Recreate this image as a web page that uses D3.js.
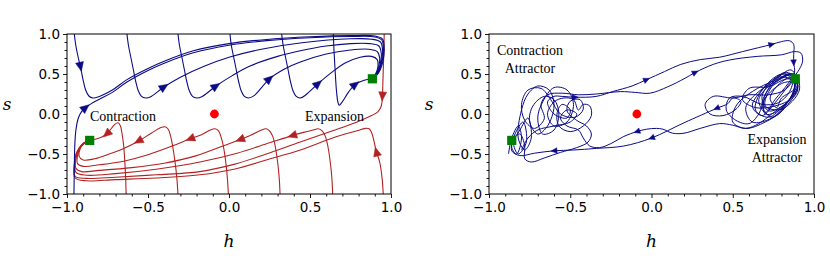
<!DOCTYPE html>
<html>
<head>
<meta charset="utf-8">
<script src="https://cdn.jsdelivr.net/npm/d3@7/dist/d3.min.js"></script>
<style>
    body { margin: 0; background: #fff; }
    svg { display: block; }
</style>
</head>
<body>
<div id="chart"></div>
<script>

// axis ticks (same for h and s, both panels)
var majorTicks = [-1.0, -0.5, 0.0, 0.5, 1.0];
var tickLabels = ['\u22121.0', '\u22120.5', '0.0', '0.5', '1.0'];
var minorTicks = [-0.9, -0.8, -0.7, -0.6, -0.4, -0.3, -0.2, -0.1, 0.1, 0.2, 0.3, 0.4, 0.6, 0.7, 0.8, 0.9];

// fixed points [h, s]
var saddlePoint = [-0.09, 0.0];
var contractionPoint = [-0.86, -0.33];
var expansionPoint = [0.885, 0.44];

// left panel: trajectories starting on the top edge (blue)
var blueCurves = [
    [[-0.955, 1.0], [-0.945, 0.85], [-0.93, 0.7], [-0.917, 0.59], [-0.9, 0.42], [-0.885, 0.3], [-0.865, 0.225], [-0.84, 0.2], [-0.8, 0.22], [-0.72, 0.3], [-0.63, 0.43], [-0.5, 0.57], [-0.4, 0.66], [-0.22, 0.79], [0.0, 0.88], [0.25, 0.935], [0.5, 0.965], [0.75, 0.98], [0.9, 0.975], [0.948, 0.935], [0.958, 0.82], [0.952, 0.68], [0.935, 0.56], [0.91, 0.48], [0.885, 0.44]],
    [[-0.957, -1.0], [-0.955, -0.7], [-0.952, -0.4], [-0.945, -0.2], [-0.93, -0.05], [-0.91, 0.03], [-0.885, 0.08], [-0.85, 0.13], [-0.8, 0.185], [-0.72, 0.27], [-0.63, 0.4], [-0.5, 0.545], [-0.4, 0.635], [-0.22, 0.765], [0.0, 0.86], [0.25, 0.92], [0.5, 0.953], [0.75, 0.968], [0.9, 0.963], [0.943, 0.925], [0.953, 0.82], [0.947, 0.68], [0.93, 0.56], [0.907, 0.48], [0.885, 0.44]],
    [[-0.63, 1.0], [-0.62, 0.85], [-0.605, 0.7], [-0.59, 0.55], [-0.575, 0.4], [-0.56, 0.29], [-0.54, 0.22], [-0.515, 0.2], [-0.48, 0.22], [-0.4, 0.34], [-0.3, 0.46], [-0.15, 0.6], [0.0, 0.71], [0.2, 0.81], [0.45, 0.89], [0.75, 0.94], [0.88, 0.935], [0.935, 0.9], [0.948, 0.8], [0.943, 0.68], [0.928, 0.56], [0.905, 0.48], [0.885, 0.44]],
    [[-0.315, 1.0], [-0.305, 0.85], [-0.29, 0.7], [-0.275, 0.55], [-0.26, 0.4], [-0.245, 0.29], [-0.225, 0.22], [-0.2, 0.2], [-0.165, 0.22], [-0.08, 0.35], [0.02, 0.48], [0.13, 0.6], [0.3, 0.72], [0.44, 0.79], [0.6, 0.85], [0.75, 0.88], [0.87, 0.88], [0.925, 0.85], [0.94, 0.76], [0.935, 0.64], [0.92, 0.54], [0.9, 0.47], [0.885, 0.44]],
    [[0.006, 1.0], [0.015, 0.85], [0.03, 0.7], [0.045, 0.55], [0.06, 0.4], [0.075, 0.29], [0.095, 0.22], [0.12, 0.2], [0.155, 0.23], [0.25, 0.44], [0.34, 0.56], [0.44, 0.65], [0.6, 0.75], [0.75, 0.8], [0.86, 0.81], [0.915, 0.78], [0.93, 0.7], [0.925, 0.6], [0.91, 0.51], [0.885, 0.44]],
    [[0.325, 1.0], [0.335, 0.85], [0.35, 0.7], [0.365, 0.55], [0.38, 0.4], [0.395, 0.29], [0.415, 0.22], [0.44, 0.2], [0.475, 0.24], [0.55, 0.38], [0.64, 0.53], [0.72, 0.64], [0.81, 0.71], [0.88, 0.72], [0.915, 0.68], [0.92, 0.6], [0.905, 0.5], [0.885, 0.44]],
    [[0.644, 1.0], [0.648, 0.8], [0.655, 0.55], [0.663, 0.3], [0.672, 0.15], [0.68, 0.11], [0.695, 0.14], [0.74, 0.28], [0.78, 0.37], [0.83, 0.42], [0.885, 0.44]]
];

// left panel: trajectories starting on the bottom edge (red), last one from the top right
var redCurves = [
    [[-0.635, -1.0], [-0.638, -0.8], [-0.643, -0.6], [-0.65, -0.4], [-0.66, -0.25], [-0.67, -0.15], [-0.685, -0.11], [-0.705, -0.13], [-0.755, -0.25], [-0.8, -0.3], [-0.86, -0.33]],
    [[-0.315, -1.0], [-0.322, -0.8], [-0.333, -0.6], [-0.348, -0.4], [-0.36, -0.28], [-0.375, -0.19], [-0.395, -0.16], [-0.42, -0.17], [-0.48, -0.24], [-0.56, -0.34], [-0.65, -0.43], [-0.74, -0.5], [-0.83, -0.56], [-0.9, -0.575], [-0.925, -0.53], [-0.92, -0.44], [-0.895, -0.37], [-0.86, -0.33]],
    [[-0.004, -1.0], [-0.01, -0.8], [-0.02, -0.6], [-0.035, -0.4], [-0.05, -0.28], [-0.065, -0.21], [-0.086, -0.185], [-0.115, -0.2], [-0.17, -0.26], [-0.24, -0.31], [-0.35, -0.4], [-0.5, -0.51], [-0.65, -0.59], [-0.8, -0.635], [-0.9, -0.655], [-0.935, -0.62], [-0.935, -0.52], [-0.915, -0.41], [-0.885, -0.35], [-0.86, -0.33]],
    [[0.315, -1.0], [0.31, -0.8], [0.3, -0.6], [0.285, -0.4], [0.27, -0.28], [0.25, -0.21], [0.23, -0.185], [0.2, -0.2], [0.14, -0.26], [0.068, -0.32], [-0.05, -0.41], [-0.2, -0.52], [-0.4, -0.615], [-0.6, -0.67], [-0.8, -0.705], [-0.91, -0.72], [-0.945, -0.68], [-0.945, -0.56], [-0.925, -0.43], [-0.89, -0.355], [-0.86, -0.33]],
    [[0.64, -1.0], [0.635, -0.8], [0.625, -0.6], [0.61, -0.4], [0.595, -0.28], [0.575, -0.21], [0.55, -0.185], [0.52, -0.2], [0.46, -0.23], [0.39, -0.27], [0.25, -0.36], [0.05, -0.49], [-0.18, -0.6], [-0.45, -0.69], [-0.7, -0.745], [-0.88, -0.765], [-0.945, -0.73], [-0.95, -0.6], [-0.93, -0.45], [-0.895, -0.36], [-0.86, -0.33]],
    [[0.952, -1.0], [0.945, -0.8], [0.93, -0.6], [0.91, -0.47], [0.895, -0.34], [0.88, -0.23], [0.865, -0.185], [0.84, -0.18], [0.79, -0.21], [0.64, -0.3], [0.44, -0.45], [0.23, -0.575], [0.03, -0.69], [-0.18, -0.76], [-0.45, -0.8], [-0.7, -0.82], [-0.88, -0.835], [-0.95, -0.8], [-0.955, -0.65], [-0.94, -0.48], [-0.9, -0.37], [-0.86, -0.33]],
    [[0.958, 1.0], [0.956, 0.8], [0.953, 0.6], [0.95, 0.4], [0.947, 0.22], [0.94, 0.1], [0.92, 0.03], [0.88, -0.02], [0.79, -0.1], [0.64, -0.21], [0.44, -0.35], [0.23, -0.5], [0.03, -0.63], [-0.18, -0.72], [-0.45, -0.76], [-0.7, -0.79], [-0.88, -0.805], [-0.95, -0.78], [-0.955, -0.64], [-0.94, -0.48], [-0.9, -0.37], [-0.86, -0.33]]
];

// arrow heads: [curve index, h, s]
var blueArrows = [[0, -0.917, 0.59], [1, -0.885, 0.08], [2, -0.4, 0.34], [3, -0.08, 0.35], [4, 0.25, 0.44], [5, 0.55, 0.38], [6, 0.78, 0.37]];
var redArrows = [[0, -0.755, -0.25], [1, -0.56, -0.34], [2, -0.24, -0.31], [3, 0.068, -0.32], [4, 0.39, -0.27], [5, 0.91, -0.47], [6, 0.947, 0.22]];

// right panel: one long noisy trajectory, hopping between the two attractors
var noisyTrajectory = [
    // contraction attractor, tight loops by the square
    [-0.88, -0.5], [-0.86, -0.3], [-0.82, -0.15], [-0.8, -0.3], [-0.83, -0.5], [-0.86, -0.42],
    [-0.84, -0.25], [-0.79, -0.1], [-0.77, -0.35], [-0.82, -0.5], [-0.85, -0.35],
    [-0.81, -0.2], [-0.76, -0.05], [-0.74, -0.3], [-0.78, -0.45], [-0.82, -0.3],
    // wider loops
    [-0.8, 0.05], [-0.76, 0.25], [-0.7, 0.35], [-0.63, 0.3], [-0.6, 0.1], [-0.64, -0.15], [-0.7, -0.25], [-0.75, -0.1],
    [-0.73, 0.1], [-0.66, 0.22], [-0.6, 0.18], [-0.57, 0.0], [-0.6, -0.2], [-0.67, -0.25], [-0.7, -0.05],
    [-0.67, 0.15], [-0.6, 0.33], [-0.52, 0.3], [-0.48, 0.12], [-0.52, -0.1], [-0.6, -0.15], [-0.64, 0.0],
    [-0.6, 0.15], [-0.54, 0.2], [-0.48, 0.18], [-0.45, 0.05], [-0.42, 0.12], [-0.38, 0.1], [-0.37, -0.02], [-0.42, -0.15], [-0.5, -0.22], [-0.57, -0.15], [-0.58, 0.02],
    [-0.55, 0.12], [-0.5, 0.05], [-0.52, -0.05], [-0.6, 0.0], [-0.64, 0.15], [-0.6, 0.22], [-0.55, 0.22], [-0.47, 0.21],
    // upper crossing 1
    [-0.34, 0.22], [-0.24, 0.28], [-0.12, 0.35], [-0.03, 0.43], [0.08, 0.53], [0.18, 0.62], [0.3, 0.68], [0.42, 0.71], [0.56, 0.78], [0.66, 0.83], [0.74, 0.87], [0.8, 0.905], [0.85, 0.915], [0.875, 0.87], [0.875, 0.74], [0.875, 0.64], [0.88, 0.52],
    // expansion attractor
    [0.84, 0.38], [0.76, 0.18], [0.7, 0.02], [0.66, 0.18], [0.76, 0.42], [0.86, 0.55], [0.9, 0.35],
    [0.82, 0.12], [0.72, -0.04], [0.64, 0.05], [0.68, 0.3], [0.8, 0.5], [0.88, 0.45], [0.86, 0.22],
    [0.78, 0.04], [0.7, 0.0], [0.7, 0.24], [0.82, 0.52], [0.9, 0.42], [0.84, 0.16],
    [0.74, -0.05], [0.62, -0.1], [0.58, 0.08], [0.66, 0.28], [0.78, 0.42], [0.88, 0.5], [0.91, 0.3],
    [0.8, 0.06], [0.7, 0.1], [0.74, 0.34], [0.86, 0.5], [0.88, 0.32], [0.8, 0.2],
    [0.77, 0.08], [0.73, 0.2], [0.8, 0.4], [0.87, 0.46], [0.85, 0.28], [0.78, 0.14],
    [0.68, 0.12], [0.56, 0.22], [0.48, 0.2], [0.46, 0.05], [0.52, -0.08], [0.6, -0.12], [0.66, 0.0], [0.7, 0.2], [0.8, 0.38], [0.86, 0.4],
    [0.82, 0.3], [0.72, 0.24], [0.6, 0.24], [0.5, 0.2], [0.38, 0.22], [0.33, 0.12], [0.36, 0.0], [0.44, -0.02], [0.52, 0.06], [0.55, 0.16], [0.5, 0.2],
    // lower crossing 1
    [0.47, 0.13], [0.4, 0.07], [0.2, -0.11], [0.0, -0.3], [-0.17, -0.4], [-0.34, -0.43], [-0.48, -0.45], [-0.6, -0.46], [-0.72, -0.49], [-0.81, -0.52],
    // contraction attractor
    [-0.86, -0.46], [-0.85, -0.32], [-0.81, -0.25], [-0.78, -0.4], [-0.78, -0.56], [-0.74, -0.6], [-0.66, -0.55], [-0.56, -0.48], [-0.46, -0.42], [-0.39, -0.35], [-0.37, -0.25], [-0.4, -0.15],
    [-0.46, -0.08], [-0.52, 0.04], [-0.5, 0.16], [-0.44, 0.18], [-0.42, 0.06], [-0.47, -0.04], [-0.56, 0.0], [-0.62, 0.18], [-0.68, 0.32], [-0.76, 0.3], [-0.8, 0.12], [-0.78, -0.08], [-0.72, -0.18], [-0.66, -0.06], [-0.68, 0.12], [-0.64, 0.24], [-0.55, 0.26], [-0.45, 0.24],
    // upper crossing 2
    [-0.34, 0.25], [-0.19, 0.28], [-0.1, 0.27], [-0.01, 0.26], [0.1, 0.34], [0.2, 0.44], [0.27, 0.52], [0.38, 0.62], [0.48, 0.675], [0.65, 0.72], [0.8, 0.74], [0.88, 0.78], [0.92, 0.76], [0.93, 0.66], [0.91, 0.56], [0.89, 0.5],
    // expansion attractor
    [0.85, 0.38], [0.76, 0.14], [0.68, -0.02], [0.62, 0.1], [0.7, 0.34], [0.82, 0.5], [0.88, 0.36],
    [0.8, 0.04], [0.7, -0.1], [0.58, -0.18], [0.5, -0.1], [0.52, 0.1], [0.62, 0.28], [0.76, 0.42], [0.86, 0.48], [0.9, 0.3],
    [0.82, 0.12], [0.72, 0.04], [0.68, 0.22], [0.78, 0.46], [0.88, 0.4], [0.86, 0.2],
    [0.76, 0.1], [0.64, 0.08], [0.56, 0.18], [0.6, 0.32], [0.72, 0.34], [0.84, 0.44], [0.9, 0.36],
    [0.84, 0.12], [0.74, -0.04], [0.68, 0.12], [0.76, 0.4], [0.86, 0.5], [0.9, 0.34], [0.84, 0.16],
    [0.74, 0.0], [0.66, -0.12], [0.58, -0.18], [0.5, -0.14], [0.42, -0.12],
    // lower crossing 2
    [0.3, -0.18], [0.2, -0.24], [0.13, -0.24], [0.07, -0.19], [0.03, -0.18], [-0.03, -0.19], [-0.09, -0.22], [-0.17, -0.28], [-0.25, -0.37], [-0.32, -0.42], [-0.38, -0.4], [-0.42, -0.3],
    // contraction attractor again
    [-0.45, -0.2], [-0.52, -0.15], [-0.56, -0.05], [-0.52, 0.05], [-0.46, 0.0], [-0.5, -0.1], [-0.6, -0.15], [-0.7, -0.2], [-0.76, -0.3], [-0.8, -0.45]
];
var noisyArrows = [[-0.47, 0.21], [-0.03, 0.43], [0.74, 0.87], [0.875, 0.64], [0.27, 0.52], [0.4, 0.07], [0.0, -0.3], [-0.6, -0.46], [-0.09, -0.22]];

var blueColor = '#0b0b85';
var redColor = '#b22222';

var svg = d3.select('#chart')
    .append('svg')
    .attr('width', 830)
    .attr('height', 260)
;
svg.append('rect').attr('width', 830).attr('height', 260).attr('fill', '#fff');

var line = d3.line().curve(d3.curveCatmullRom.alpha(0.5));

function makePanel(left, right) {

    var panel = {};
    panel.x = d3.scaleLinear().domain([-1, 1]).range([left, right]);
    panel.y = d3.scaleLinear().domain([-1, 1]).range([194, 34]);
    panel.g = svg.append('g');
    panel.toPx = function (p) {
        return [panel.x(p[0]), panel.y(p[1])];
    };

    panel.g.append('g')
        .attr('transform', 'translate(0,194)')
        .call(d3.axisBottom(panel.x).tickValues(majorTicks).tickSize(4).tickPadding(4)
            .tickFormat(function (d, i) { return tickLabels[i]; }))
    ;
    panel.g.append('g')
        .attr('transform', 'translate(0,194)')
        .call(d3.axisBottom(panel.x).tickValues(minorTicks).tickSize(2.5).tickFormat(''))
    ;
    panel.g.append('g')
        .attr('transform', 'translate(' + left + ',0)')
        .call(d3.axisLeft(panel.y).tickValues(majorTicks).tickSize(4).tickPadding(3)
            .tickFormat(function (d, i) { return tickLabels[i]; }))
    ;
    panel.g.append('g')
        .attr('transform', 'translate(' + left + ',0)')
        .call(d3.axisLeft(panel.y).tickValues(minorTicks).tickSize(2.5).tickFormat(''))
    ;
    panel.g.selectAll('.domain').remove();
    panel.g.selectAll('.tick line').attr('stroke', '#000').attr('stroke-width', 0.9);
    panel.g.selectAll('.tick text')
        .attr('font-family', 'DejaVu Sans')
        .attr('font-size', 13.5)
        .attr('fill', '#000')
    ;

    panel.plot = panel.g.append('g');

    panel.g.append('rect')
        .attr('x', left)
        .attr('y', 34)
        .attr('width', right - left)
        .attr('height', 160)
        .attr('fill', 'none')
        .attr('stroke', '#000')
        .attr('stroke-width', 1)
    ;

    panel.g.append('text')
        .attr('x', (left + right) / 2)
        .attr('y', 247)
        .attr('text-anchor', 'middle')
        .attr('font-family', 'DejaVu Serif')
        .attr('font-style', 'italic')
        .attr('font-size', 17)
        .text('h')
    ;
    panel.g.append('text')
        .attr('x', left - 60)
        .attr('y', 110)
        .attr('text-anchor', 'middle')
        .attr('font-family', 'DejaVu Serif')
        .attr('font-style', 'italic')
        .attr('font-size', 17)
        .text('s')
    ;

    return panel;
}

function drawArrow(panel, pts, at, color, len, half) {
    // nearest vertex of the curve, direction from its neighbours
    var best = 0;
    var bestDist = Infinity;
    pts.forEach(function (p, i) {
        var d = (p[0] - at[0]) * (p[0] - at[0]) + (p[1] - at[1]) * (p[1] - at[1]);
        if (d < bestDist) { bestDist = d; best = i; }
    });
    var a = panel.toPx(pts[Math.max(best - 1, 0)]);
    var b = panel.toPx(pts[Math.min(best + 1, pts.length - 1)]);
    var c = panel.toPx(pts[best]);
    var dx = b[0] - a[0], dy = b[1] - a[1];
    var n = Math.sqrt(dx * dx + dy * dy);
    dx /= n; dy /= n;

    var tip = [c[0] + dx * len / 2, c[1] + dy * len / 2];
    var b1 = [c[0] - dx * len / 2 - dy * half, c[1] - dy * len / 2 + dx * half];
    var b2 = [c[0] - dx * len / 2 + dy * half, c[1] - dy * len / 2 - dx * half];

    panel.plot.append('path')
        .attr('d', 'M' + tip + 'L' + b1 + 'L' + b2 + 'Z')
        .attr('fill', color)
        .attr('stroke', color)
        .attr('stroke-width', 0.5)
    ;
}

function drawCurves(panel, curves, color, width) {
    panel.plot.selectAll(null)
        .data(curves)
        .enter()
        .append('path')
        .attr('d', function (d) { return line(d.map(panel.toPx)); })
        .attr('fill', 'none')
        .attr('stroke', color)
        .attr('stroke-width', width)
    ;
}

function drawFixedPoints(panel) {
    panel.plot.append('circle')
        .attr('cx', panel.x(saddlePoint[0]))
        .attr('cy', panel.y(saddlePoint[1]))
        .attr('r', 4.4)
        .attr('fill', '#ff0000')
    ;
    panel.plot.selectAll(null)
        .data([contractionPoint, expansionPoint])
        .enter()
        .append('rect')
        .attr('x', function (d) { return panel.x(d[0]) - 4.6; })
        .attr('y', function (d) { return panel.y(d[1]) - 4.6; })
        .attr('width', 9.2)
        .attr('height', 9.2)
        .attr('fill', '#008000')
    ;
}

function label(panel, lines, x, y, anchor) {
    var t = panel.g.append('text')
        .attr('font-family', 'Liberation Serif')
        .attr('font-size', 14)
        .attr('text-anchor', anchor)
    ;
    lines.forEach(function (s, i) {
        t.append('tspan').attr('x', x).attr('y', y + i * 17.5).text(s);
    });
}

// left panel: deterministic phase portrait
var leftPanel = makePanel(67, 391);
drawCurves(leftPanel, redCurves, redColor, 1.1);
drawCurves(leftPanel, blueCurves, blueColor, 1.1);
blueArrows.forEach(function (a) {
    drawArrow(leftPanel, blueCurves[a[0]], [a[1], a[2]], blueColor, 9, 4);
});
redArrows.forEach(function (a) {
    drawArrow(leftPanel, redCurves[a[0]], [a[1], a[2]], redColor, 9, 4);
});
drawFixedPoints(leftPanel);
label(leftPanel, ['Contraction'], 90, 121, 'start');
label(leftPanel, ['Expansion'], 305, 121, 'start');

// right panel: noisy trajectory
var rightPanel = makePanel(489, 814);
drawCurves(rightPanel, [noisyTrajectory], blueColor, 1.0);
noisyArrows.forEach(function (a) {
    drawArrow(rightPanel, noisyTrajectory, a, blueColor, 6, 2.8);
});
drawFixedPoints(rightPanel);
label(rightPanel, ['Contraction', 'Attractor'], 530, 55, 'middle');
label(rightPanel, ['Expansion', 'Attractor'], 777, 144, 'middle');

</script>
</body>
</html>
